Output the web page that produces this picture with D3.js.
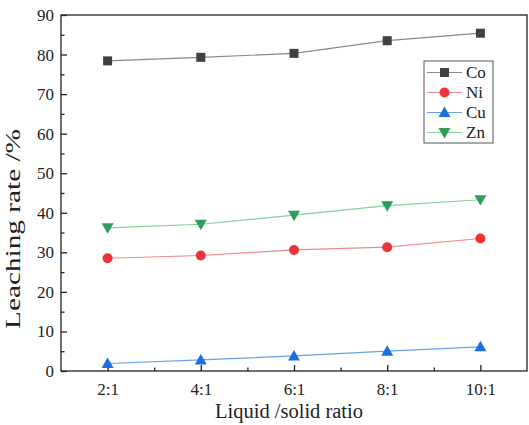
<!DOCTYPE html>
<html><head><meta charset="utf-8">
<script src="https://cdn.jsdelivr.net/npm/d3@7"></script>
<style>body{margin:0;background:#fff;}svg{display:block;}text{font-family:"Liberation Serif","Times New Roman",serif;fill:#222;}</style>
</head><body><svg id="c" width="529" height="425"></svg>
<script>
const categories = ["2:1","4:1","6:1","8:1","10:1"];
const ratios = [2,4,6,8,10];
const coValues = [78.4,79.3,80.3,83.5,85.4];
const niValues = [28.5,29.2,30.6,31.3,33.5];
const cuValues = [1.9,2.8,3.8,5.0,6.1];
const znValues = [36.2,37.1,39.4,41.8,43.3];
const yTicks = [0,10,20,30,40,50,60,70,80,90];
const seriesNames = ["Co","Ni","Cu","Zn"];

const series = [
  {name:"Co", values:coValues, marker:"square", fill:"#404040", line:"#8a8a8a"},
  {name:"Ni", values:niValues, marker:"circle", fill:"#ee3338", line:"#f28a8c"},
  {name:"Cu", values:cuValues, marker:"triangle", fill:"#1c6fe0", line:"#6aa0ef"},
  {name:"Zn", values:znValues, marker:"triangleDown", fill:"#2f9e5c", line:"#82cf9e"}
];

const svg = d3.select("#c");
const L=61, R=527, T=15, B=371;
const x = d3.scaleLinear().domain([1,11]).range([L,R]);
const y = d3.scaleLinear().domain([0,90]).range([B,T]);

// frame
svg.append("rect").attr("x",L).attr("y",T).attr("width",R-L).attr("height",B-T)
  .attr("fill","none").attr("stroke","#222").attr("stroke-width",1.3);

// x axis
const xAxis = d3.axisBottom(x).tickValues(ratios).tickSize(-6).tickFormat((d,i)=>categories[i]);
const gx = svg.append("g").attr("transform",`translate(0,${B})`).call(xAxis);
gx.select(".domain").remove();
gx.selectAll("line").attr("stroke","#222").attr("stroke-width",1.3);
gx.selectAll("text").attr("font-size",17).attr("dy","1.25em").style("font-family","'Liberation Serif',serif").attr("fill","#333");
const gxm = svg.append("g").attr("transform",`translate(0,${B})`).call(d3.axisBottom(x).tickValues([3,5,7,9]).tickSize(-3.5).tickFormat(""));
gxm.select(".domain").remove();
gxm.selectAll("line").attr("stroke","#222").attr("stroke-width",1.3);

// y axis
const gy = svg.append("g").attr("transform",`translate(${L},0)`).call(d3.axisLeft(y).tickValues(yTicks).tickSize(-6).tickPadding(7));
gy.select(".domain").remove();
gy.selectAll("line").attr("stroke","#222").attr("stroke-width",1.3);
gy.selectAll("text").attr("font-size",17).style("font-family","'Liberation Serif',serif").attr("fill","#333");
const gym = svg.append("g").attr("transform",`translate(${L},0)`).call(d3.axisLeft(y).tickValues(d3.range(5,90,10)).tickSize(-3.5).tickFormat(""));
gym.select(".domain").remove();
gym.selectAll("line").attr("stroke","#222").attr("stroke-width",1.3);

// titles
svg.append("text").attr("x",289).attr("y",418).attr("text-anchor","middle").attr("font-size",20)
  .attr("textLength",148).attr("lengthAdjust","spacingAndGlyphs").text("Liquid /solid ratio");
svg.append("text").attr("transform",`translate(20,229) rotate(-90)`).attr("text-anchor","middle").attr("font-size",21)
  .attr("textLength",200).attr("lengthAdjust","spacingAndGlyphs").attr("fill","#333").text("Leaching rate /%");

function drawMarker(g, type, cx, cy, fill){
  if(type==="square") g.append("rect").attr("x",cx-4.5).attr("y",cy-4.5).attr("width",9).attr("height",9).attr("fill",fill);
  else if(type==="circle") g.append("circle").attr("cx",cx).attr("cy",cy).attr("r",5).attr("fill",fill);
  else if(type==="triangle") g.append("path").attr("d",`M${cx},${cy-6}L${cx+6},${cy+4.5}L${cx-6},${cy+4.5}Z`).attr("fill",fill);
  else g.append("path").attr("d",`M${cx},${cy+6}L${cx+6},${cy-4.5}L${cx-6},${cy-4.5}Z`).attr("fill",fill);
}

const line = d3.line().x((d,i)=>x(ratios[i])).y(d=>y(d));
series.forEach(s=>{
  svg.append("path").attr("d",line(s.values)).attr("fill","none").attr("stroke",s.line).attr("stroke-width",1.2);
  const g = svg.append("g");
  s.values.forEach((v,i)=>drawMarker(g,s.marker,x(ratios[i]),y(v),s.fill));
});

// legend
const lg = svg.append("g");
lg.append("rect").attr("x",424).attr("y",61).attr("width",69).attr("height",82).attr("fill","#fff").attr("stroke","#555").attr("stroke-width",1);
series.forEach((s,i)=>{
  const ly = 72.5 + i*20;
  lg.append("line").attr("x1",427).attr("x2",462).attr("y1",ly).attr("y2",ly).attr("stroke",s.line).attr("stroke-width",1.2);
  drawMarker(lg,s.marker,444.5,ly,s.fill);
  lg.append("text").attr("x",466).attr("y",ly+5.5).attr("font-size",17).text(seriesNames[i]);
});
</script></body></html>
